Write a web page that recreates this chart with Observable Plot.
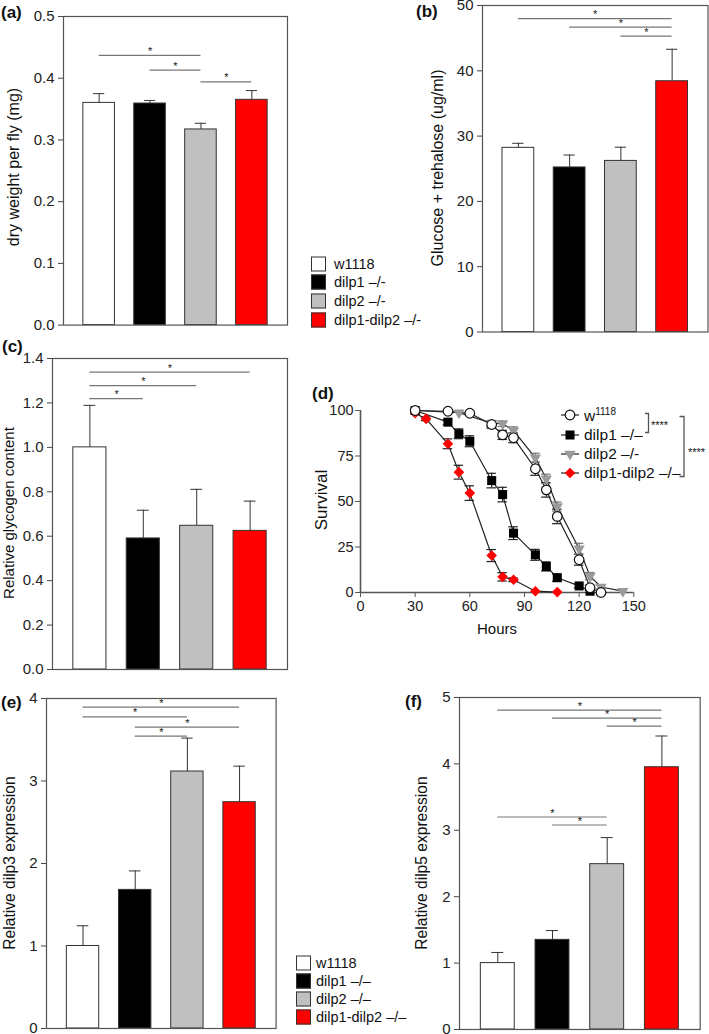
<!DOCTYPE html>
<html><head><meta charset="utf-8">
<script src="https://cdn.jsdelivr.net/npm/d3@7"></script>
<script src="https://cdn.jsdelivr.net/npm/@observablehq/plot@0.6"></script>
<style>
body{margin:0;background:#fff;}
#fig{position:relative;width:709px;height:1034px;overflow:hidden;font-family:"Liberation Sans",Arial,sans-serif;color:#111;background:#fff;}
.abs{position:absolute;}
.plabel{position:absolute;font-weight:bold;font-size:17px;line-height:1;transform:translateY(-50%);white-space:nowrap;}
.ytitle{position:absolute;white-space:nowrap;line-height:1;transform:translate(-50%,-50%) rotate(-90deg);}
.leg{position:absolute;font-size:14.5px;line-height:1;white-space:nowrap;transform:translateY(-50%);}
.box{position:absolute;width:13px;height:13px;border:1px solid #333;transform:translateY(-50%);}
</style></head><body><div id="fig"></div>
<script>
// ---------- data ----------
const groups = ["w1118", "dilp1 –/–", "dilp2 –/–", "dilp1-dilp2 –/–"];
const groupColors = ["#ffffff", "#000000", "#c0c0c0", "#ff0000"];

// (a) dry weight per fly (mg)
const dryWeight = [0.360, 0.359, 0.317, 0.365];
const dryWeightErr = [0.015, 0.005, 0.010, 0.015];
const dryWeightSig = [[0, 2, 0.437], [1, 2, 0.413], [2, 3, 0.394]];
const dryWeightTicks = [0, 0.1, 0.2, 0.3, 0.4, 0.5];

// (b) glucose + trehalose (ug/ml)
const sugar = [28.2, 25.2, 26.2, 38.4];
const sugarErr = [0.7, 1.9, 2.1, 4.9];
const sugarSig = [[0, 3, 48.0], [1, 3, 46.7], [2, 3, 45.3]];
const sugarTicks = [0, 10, 20, 30, 40, 50];

// (c) relative glycogen content
const glycogen = [1.0, 0.590, 0.647, 0.624];
const glycogenErr = [0.189, 0.127, 0.164, 0.134];
const glycogenSig = [[0, 3, 1.339], [0, 2, 1.278], [0, 1, 1.219]];
const glycogenTicks = [0, 0.2, 0.4, 0.6, 0.8, 1.0, 1.2, 1.4];

// (e) relative dilp3 expression
const dilp3 = [1.0, 1.68, 3.115, 2.743];
const dilp3Err = [0.245, 0.23, 0.405, 0.437];
const dilp3Sig = [[0, 3, 3.895], [0, 2, 3.778], [1, 3, 3.652], [1, 2, 3.543]];
const dilp3Ticks = [0, 1, 2, 3, 4];

// (f) relative dilp5 expression
const dilp5 = [1.0, 1.35, 2.49, 3.95];
const dilp5Err = [0.16, 0.14, 0.40, 0.47];
const dilp5Sig = [[0, 3, 4.81], [1, 3, 4.69], [2, 3, 4.57], [0, 2, 3.20], [1, 2, 3.08]];
const dilp5Ticks = [0, 1, 2, 3, 4, 5];

// (d) survival (%) vs hours
const wHours   = [30, 48, 60, 72, 78, 84, 96, 102, 108, 120, 126, 132];
const wSurv    = [100, 99.6, 98.5, 92.3, 86.6, 85.0, 68.0, 56.4, 41.8, 18.0, 2.6, 0];
const wErr     = [0, 0, 0, 2, 2.5, 2.7, 3.6, 4, 4, 3, 1.5, 0];
const d1Hours  = [30, 48, 54, 60, 72, 78, 84, 96, 102, 108, 120, 126];
const d1Surv   = [100, 93.6, 87.2, 83.1, 61.5, 53.8, 32.6, 20.7, 14.3, 8.1, 3.6, 0.7];
const d1Err    = [0, 1.5, 2.7, 3, 4, 4, 3.5, 3, 2.5, 2, 1, 0];
const d2Hours  = [30, 54, 72, 78, 84, 96, 102, 108, 120, 126, 132, 144];
const d2Surv   = [100, 98.8, 93.0, 92.7, 89.0, 74.0, 62.5, 47.2, 24.0, 9.0, 3.0, 0.7];
const d2Err    = [0, 0, 1.5, 1.5, 2, 2.5, 2.5, 2.5, 3, 2, 1, 0];
const d12Hours = [30, 36, 48, 54, 60, 72, 78, 84, 96, 108];
const d12Surv  = [98.5, 95.4, 81.7, 66.1, 54.6, 20.3, 8.6, 7.0, 0.7, 0.2];
const d12Err   = [0, 1, 2.7, 3.8, 4, 3.3, 2.3, 1, 0, 0];
const survTicksX = [0, 30, 60, 90, 120, 150];
const survTicksY = [0, 25, 50, 75, 100];

// ---------- helpers ----------
const FONT = '"Liberation Sans", Arial, sans-serif';
const fig = document.getElementById("fig");

function place(node, left, top) {
  const d = document.createElement("div");
  d.className = "abs";
  d.style.left = left + "px";
  d.style.top = top + "px";
  d.appendChild(node);
  fig.appendChild(d);
}
function addDiv(cls, html, x, y, extra = {}) {
  const d = document.createElement("div");
  d.className = cls;
  d.innerHTML = html;
  d.style.left = x + "px";
  d.style.top = y + "px";
  Object.assign(d.style, extra);
  fig.appendChild(d);
  return d;
}

function barPanel({values, errors, sig, ticks, fmt, L, T, R, B}) {
  const mL = 48, mR = 1, mT = 4, mB = 4;
  const data = groups.map((g, i) => ({g, i, v: values[i], e: errors[i], c: groupColors[i]}));
  const sigData = sig.map(([a, b, y]) => ({a, b, y}));
  const yMax = ticks[ticks.length - 1];
  const p = Plot.plot({
    width: R - L + mL + mR, height: B - T + mT + mB,
    marginLeft: mL, marginRight: mR, marginTop: mT, marginBottom: mB,
    x: {domain: [-0.7, 3.7], axis: null},
    y: {domain: [0, yMax]},
    color: {type: "identity"},
    style: {fontFamily: FONT, color: "#222", background: "transparent", overflow: "visible"},
    marks: [
      Plot.ruleX(data, {x: "i", y1: "v", y2: d => d.v + d.e, stroke: "#333", strokeWidth: 1}),
      Plot.ruleY(data, {x1: d => d.i - 0.11, x2: d => d.i + 0.11, y: d => d.v + d.e, stroke: "#333", strokeWidth: 1}),
      Plot.rect(data, {x1: d => d.i - 0.31, x2: d => d.i + 0.31, y1: 0, y2: "v", fill: "c", stroke: "#333", strokeWidth: 1}),
      Plot.ruleY(sigData, {x1: "a", x2: "b", y: "y", stroke: "#777", strokeWidth: 1.2}),
      Plot.text(sigData, {x: d => (d.a + d.b) / 2, y: "y", text: d => "*", dy: -4, fontSize: 11, fill: "#222"}),
      Plot.frame({stroke: "#555", strokeWidth: 1.2}),
      Plot.axisY({ticks, tickFormat: fmt, tickSize: 5, tickPadding: 4, fontSize: 15, label: null, stroke: "#444"})
    ]
  });
  place(p, L - mL, T - mT);
}

// ---------- bar panels ----------
barPanel({values: dryWeight, errors: dryWeightErr, sig: dryWeightSig, ticks: dryWeightTicks, fmt: d3.format(".1f"), L: 63, T: 16, R: 287, B: 324.6});
barPanel({values: sugar, errors: sugarErr, sig: sugarSig, ticks: sugarTicks, fmt: d3.format("d"), L: 482, T: 5, R: 707.5, B: 331.5});
barPanel({values: glycogen, errors: glycogenErr, sig: glycogenSig, ticks: glycogenTicks, fmt: d3.format(".1f"), L: 52, T: 358.3, R: 287, B: 669.3});
barPanel({values: dilp3, errors: dilp3Err, sig: dilp3Sig, ticks: dilp3Ticks, fmt: d3.format("d"), L: 45.7, T: 698, R: 275.3, B: 1028});
barPanel({values: dilp5, errors: dilp5Err, sig: dilp5Sig, ticks: dilp5Ticks, fmt: d3.format("d"), L: 459.3, T: 697.3, R: 700, B: 1029.3});

// ---------- survival panel ----------
const seriesDefs = [
  {name: "dilp1-dilp2", hours: d12Hours, surv: d12Surv, err: d12Err, symbol: "diamond2", fill: "#ff0000", stroke: "none", r: 4.8, rotate: 0, ec: "#222"},
  {name: "dilp1", hours: d1Hours, surv: d1Surv, err: d1Err, symbol: "square", fill: "#000", stroke: "none", r: 5.1, rotate: 0, ec: "#222"},
  {name: "dilp2", hours: d2Hours, surv: d2Surv, err: d2Err, symbol: "triangle", fill: "#9a9a9a", stroke: "none", r: 4.2, rotate: 180, ec: "#777"},
  {name: "w1118", hours: wHours, surv: wSurv, err: wErr, symbol: "circle", fill: "#fff", stroke: "#111", r: 4.8, rotate: 0, ec: "#222"}
];
const survRows = seriesDefs.flatMap(s => s.hours.map((h, k) => ({series: s.name, h, s: s.surv[k], e: s.err[k], ec: s.ec})));
const errRows = survRows.filter(d => d.e > 0);
{
  const mL = 45, mR = 12, mT = 10, mB = 30;
  const L = 360, T = 410, R = 633.3, B = 592;
  const p = Plot.plot({
    width: R - L + mL + mR, height: B - T + mT + mB,
    marginLeft: mL, marginRight: mR, marginTop: mT, marginBottom: mB,
    x: {domain: [0, 150]},
    y: {domain: [0, 100]},
    color: {type: "identity"},
    style: {fontFamily: FONT, color: "#222", background: "transparent", overflow: "visible"},
    marks: [
      Plot.ruleX([0], {stroke: "#555", strokeWidth: 1.6}),
      Plot.ruleY([0], {stroke: "#555", strokeWidth: 1.6}),
      Plot.axisY({ticks: survTicksY, tickSize: 5, tickPadding: 2, fontSize: 14.5, label: null, stroke: "#555"}),
      Plot.axisX({ticks: survTicksX, tickSize: 5, tickPadding: 3, fontSize: 14.5, label: null, stroke: "#555"}),
      Plot.line(survRows, {x: "h", y: "s", z: "series", stroke: "#222", strokeWidth: 1.2}),
      Plot.ruleX(errRows, {x: "h", y1: d => d.s - d.e, y2: d => d.s + d.e, stroke: "ec", strokeWidth: 1.2}),
      Plot.ruleY(errRows, {x1: d => d.h - 2.6, x2: d => d.h + 2.6, y: d => d.s + d.e, stroke: "ec", strokeWidth: 1.2}),
      Plot.ruleY(errRows, {x1: d => d.h - 2.6, x2: d => d.h + 2.6, y: d => d.s - d.e, stroke: "ec", strokeWidth: 1.2}),
      ...seriesDefs.map(s => Plot.dot(survRows.filter(d => d.series === s.name), {
        x: "h", y: "s", symbol: () => s.symbol, r: s.r, fill: s.fill, stroke: s.stroke, strokeWidth: 1.2, rotate: s.rotate
      }))
    ]
  });
  place(p, L - mL, T - mT);
}

// ---------- text: panel labels and axis titles ----------
addDiv("plabel", "(a)", 1, 12);
addDiv("plabel", "(b)", 416, 11);
addDiv("plabel", "(c)", 2, 346);
addDiv("plabel", "(d)", 312, 393);
addDiv("plabel", "(e)", 1, 702);
addDiv("plabel", "(f)", 405, 701);

addDiv("ytitle", "dry weight per fly (mg)", 13.5, 167, {fontSize: "16px"});
addDiv("ytitle", "Glucose + trehalose (ug/ml)", 438, 168, {fontSize: "16px"});
addDiv("ytitle", "Relative glycogen content", 8, 513, {fontSize: "15px"});
addDiv("ytitle", "Survival", 321, 500, {fontSize: "17px"});
addDiv("ytitle", "Relative dilp3 expression", 9.5, 863, {fontSize: "15.6px"});
addDiv("ytitle", "Relative dilp5 expression", 421.7, 863, {fontSize: "15.6px"});
addDiv("leg", "Hours", 497, 628, {fontSize: "15px", transform: "translate(-50%,-50%)"});

// ---------- bar legends ----------
const legendA = ["w1118", "dilp1 –/-", "dilp2 –/-", "dilp1-dilp2 –/-"];
const legendE = ["w1118", "dilp1 –/–", "dilp2 –/–", "dilp1-dilp2 –/–"];
function barLegend(labels, boxX, textX, rows) {
  labels.forEach((t, i) => {
    addDiv("box", "", boxX, rows[i], {background: groupColors[i]});
    addDiv("leg", t, textX, rows[i]);
  });
}
barLegend(legendA, 310.5, 334, [263.5, 282.2, 300.9, 319.6]);
barLegend(legendE, 296, 316, [963, 981, 999, 1017]);

// ---------- survival legend ----------
const legendD = ["w<sup style='font-size:10px;vertical-align:6px'>1118</sup>", "dilp1 –/–", "dilp2 –/-", "dilp1-dilp2 –/–"];
const legendDefs = [seriesDefs[3], seriesDefs[1], seriesDefs[2], seriesDefs[0]];
const legendRowsD = [415, 435, 454, 473.3];
legendDefs.forEach((s, i) => {
  const svg = d3.create("svg").attr("width", 22).attr("height", 14).style("overflow", "visible");
  svg.append("line").attr("x1", 1).attr("x2", 19).attr("y1", 7).attr("y2", 7).attr("stroke", "#222").attr("stroke-width", 1.2);
  const sym = {circle: d3.symbolCircle, square: d3.symbolSquare, triangle: d3.symbolTriangle, diamond2: d3.symbolDiamond2}[s.symbol];
  svg.append("path").attr("d", d3.symbol(sym, s.r * s.r * Math.PI)())
    .attr("transform", `translate(10,7) rotate(${s.rotate})`)
    .attr("fill", s.fill).attr("stroke", s.stroke).attr("stroke-width", 1.2);
  place(svg.node(), 560, legendRowsD[i] - 7);
  addDiv("leg", legendD[i], 584, legendRowsD[i], {fontSize: "15.5px"});
});

// significance brackets
{
  const svg = d3.create("svg").attr("width", 709).attr("height", 1034)
    .style("position", "absolute").style("left", 0).style("top", 0).style("pointer-events", "none");
  svg.append("path").attr("d", "M645,413.5H648.5V432.5H645").attr("fill", "none").attr("stroke", "#555").attr("stroke-width", 1.3);
  svg.append("path").attr("d", "M679.5,416.5H684V476.5H679.5").attr("fill", "none").attr("stroke", "#555").attr("stroke-width", 1.3);
  fig.appendChild(svg.node());
  addDiv("leg", "****", 651, 425, {fontSize: "11px"});
  addDiv("leg", "****", 688, 452, {fontSize: "11px"});
}
</script></body></html>
